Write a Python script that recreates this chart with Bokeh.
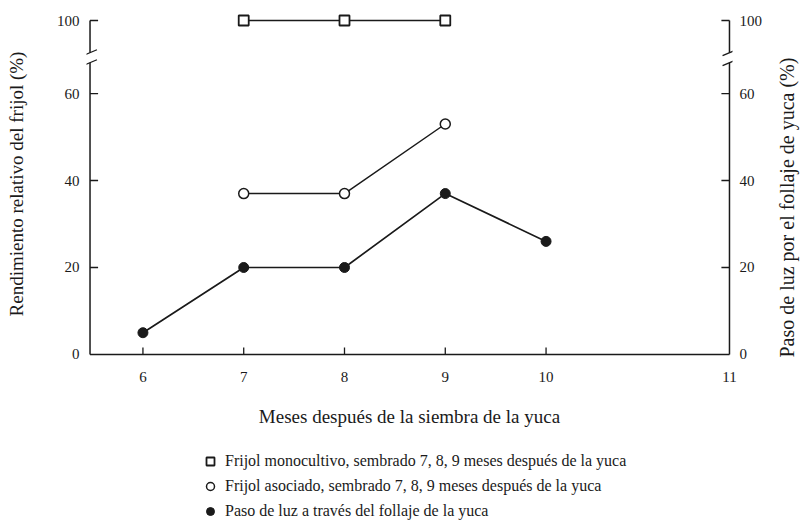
import math
from bokeh.plotting import figure
from bokeh.layouts import column
from bokeh.models import Range1d, FixedTicker, LinearAxis, Legend, LegendItem
from bokeh.embed import file_html
from bokeh.resources import INLINE

# ---------------- data ----------------
meses_mono = [7, 8, 9]
rend_mono = [100, 100, 100]          # Frijol monocultivo
meses_asoc = [7, 8, 9]
rend_asoc = [37, 37, 53]             # Frijol asociado
meses_luz = [6, 7, 8, 9, 10]
paso_luz = [5, 20, 20, 37, 26]       # Paso de luz (eje derecho)

x_tick_values = [6, 7, 8, 9, 10]
x_tick_labels = ["6", "7", "8", "9", "10", "11"]
y_tick_values = [0, 20, 40, 60, 100]
y_tick_labels = ["0", "20", "40", "60", "100"]

legend_labels = [
    "Frijol monocultivo, sembrado 7, 8, 9 meses después de la yuca",
    "Frijol asociado, sembrado 7, 8, 9 meses después de la yuca",
    "Paso de luz a través del follaje de la yuca",
]

FONT = "Liberation Serif"
INK = "#1a1a1a"

# ---------------- broken y axis (70..100 compressed) ----------------
BREAK_AT = 70
TOP_POS = 76.8


def disp(v):
    return v if v <= BREAK_AT else TOP_POS - (100 - v) * 0.25


X0, X1 = 5.44, 11.85      # frame range
XL, XR = 5.475, 11.82     # drawn axis positions
Y0, Y1 = -0.7, 79.1
TKX = 0.08                # tick length (x units)
TKY = 1.6                 # tick length (y units)
GAP_LO, GAP_HI = 67.1, 69.4

MAIN_H = 440
p = figure(width=812, height=MAIN_H, output_backend="svg", toolbar_location=None,
           x_range=Range1d(X0, X1), y_range=Range1d(Y0, Y1),
           min_border_left=86, min_border_right=79, min_border_top=10,
           min_border_bottom=MAIN_H - 357)
p.outline_line_color = None
p.grid.visible = False
p.background_fill_color = "white"
p.border_fill_color = "white"

# ---- axis lines / ticks drawn as glyphs ----
seg_x0 = [XL, XL, XR, XR, XL]
seg_y0 = [0, GAP_HI, 0, GAP_HI, 0]
seg_x1 = [XL, XL, XR, XR, XR]
seg_y1 = [GAP_LO, TOP_POS, GAP_LO, TOP_POS, 0]
p.segment(seg_x0, seg_y0, seg_x1, seg_y1, line_color=INK, line_width=1.5)

ytk = [disp(v) for v in y_tick_values[1:]]
p.segment([XL] * len(ytk), ytk, [XL + TKX] * len(ytk), ytk, line_color=INK, line_width=1.3)
p.segment([XR - TKX] * len(ytk), ytk, [XR] * len(ytk), ytk, line_color=INK, line_width=1.3)
p.segment(x_tick_values, [0] * len(x_tick_values), x_tick_values,
          [TKY] * len(x_tick_values), line_color=INK, line_width=1.3)

# break marks
p.scatter([XL, XL, XR, XR], [GAP_LO, GAP_HI, GAP_LO, GAP_HI], marker="dash",
          size=15, angle=0.4, line_color=INK, line_width=1.3)

# ---- series ----
yd_mono = [disp(v) for v in rend_mono]
yd_asoc = [disp(v) for v in rend_asoc]
yd_luz = [disp(v) for v in paso_luz]

p.line(meses_mono, yd_mono, line_color=INK, line_width=1.7)
p.line(meses_asoc, yd_asoc, line_color=INK, line_width=1.5)
p.line(meses_luz, yd_luz, line_color=INK, line_width=1.7)

MONO_STYLE = dict(marker="square", size=10, fill_color="white", line_color=INK, line_width=1.8)
ASOC_STYLE = dict(marker="circle", size=10, fill_color="white", line_color=INK, line_width=1.5)
LUZ_STYLE = dict(marker="circle", size=10, fill_color=INK, line_color=INK, line_width=1)

p.scatter(meses_mono, yd_mono, **MONO_STYLE)
p.scatter(meses_asoc, yd_asoc, **ASOC_STYLE)
p.scatter(meses_luz, yd_luz, **LUZ_STYLE)

# ---- axes (labels only) ----
def style_axis(ax, title_size="19px"):
    ax.axis_line_color = None
    ax.major_tick_line_color = None
    ax.minor_tick_line_color = None
    ax.major_tick_in = 0
    ax.major_tick_out = 0
    ax.major_label_text_font = FONT
    ax.major_label_text_font_size = "15px"
    ax.major_label_text_color = INK
    ax.axis_label_text_font = FONT
    ax.axis_label_text_font_size = title_size
    ax.axis_label_text_font_style = "normal"
    ax.axis_label_text_color = INK


xt = x_tick_values + [XR]
p.xaxis.ticker = FixedTicker(ticks=xt)
p.xaxis.major_label_overrides = {t: lab for t, lab in zip(xt, x_tick_labels)}
p.xaxis.axis_label = "Meses después de la siembra de la yuca"
style_axis(p.xaxis[0])
p.xaxis.major_label_standoff = 14
p.xaxis.axis_label_standoff = 21

yt = [disp(v) for v in y_tick_values]
p.yaxis.ticker = FixedTicker(ticks=yt)
p.yaxis.major_label_overrides = {t: lab for t, lab in zip(yt, y_tick_labels)}
p.yaxis.axis_label = "Rendimiento relativo del frijol (%)"
style_axis(p.yaxis[0])
p.yaxis.major_label_standoff = 7
p.yaxis.axis_label_standoff = 27

ry = LinearAxis(ticker=FixedTicker(ticks=yt),
                major_label_overrides={t: lab for t, lab in zip(yt, y_tick_labels)},
                axis_label="Paso de luz por el follaje de yuca (%)")
style_axis(ry, "20px")
ry.major_label_standoff = 7
ry.axis_label_standoff = 22
ry.axis_label_orientation = math.pi / 2
if hasattr(ry, "axis_label_align"):
    ry.axis_label_align = "start"
p.add_layout(ry, "right")

# ---- legend strip below the chart ----
LEG_H = 524 - MAIN_H
lg = figure(width=812, height=LEG_H, output_backend="svg", toolbar_location=None,
            x_axis_type=None, y_axis_type=None, min_border=0,
            x_range=Range1d(0, 1), y_range=Range1d(0, 1))
lg.outline_line_color = None
lg.grid.visible = False
# legend keys reuse the series (they fall outside this strip's ranges)
k_mono = lg.scatter(meses_mono, yd_mono, **MONO_STYLE)
k_asoc = lg.scatter(meses_asoc, yd_asoc, **ASOC_STYLE)
k_luz = lg.scatter(meses_luz, yd_luz, **LUZ_STYLE)
legend = Legend(
    items=[LegendItem(label=legend_labels[0], renderers=[k_mono]),
           LegendItem(label=legend_labels[1], renderers=[k_asoc]),
           LegendItem(label=legend_labels[2], renderers=[k_luz])],
    location=(114, 3), orientation="vertical",
    border_line_color=None, background_fill_alpha=0,
    padding=0, margin=0, spacing=5, glyph_width=20, glyph_height=20,
    label_height=20, label_standoff=5,
    label_text_font=FONT, label_text_font_size="16px", label_text_color=INK)
lg.add_layout(legend)

open("out.html", "w").write(file_html(column(p, lg, spacing=0), INLINE))
